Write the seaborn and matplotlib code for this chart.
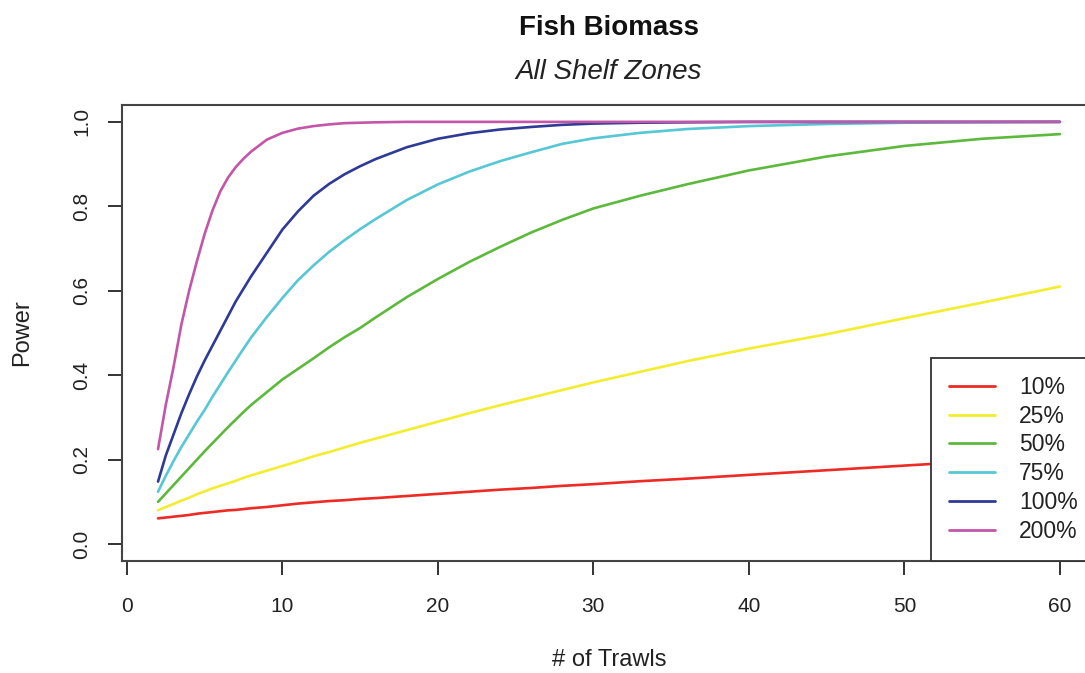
import matplotlib
matplotlib.use('Agg')
import matplotlib.pyplot as plt
import pandas as pd
import seaborn as sns

# number of trawls
trawls = [2, 2.5, 3, 3.5, 4, 4.5, 5, 5.5, 6, 6.5, 7, 7.5, 8, 9, 10, 11, 12, 13, 14,
          15, 16, 18, 20, 22, 24, 26, 28, 30, 33, 36, 40, 45, 50, 55, 60]

# power by effect size
p10 = [0.061, 0.063, 0.065, 0.067, 0.069, 0.072, 0.074, 0.076, 0.078, 0.080, 0.081,
       0.083, 0.085, 0.088, 0.092, 0.096, 0.099, 0.102, 0.104, 0.107, 0.109, 0.114,
       0.119, 0.124, 0.129, 0.133, 0.138, 0.142, 0.149, 0.155, 0.164, 0.175, 0.186,
       0.197, 0.208]
p25 = [0.080, 0.088, 0.095, 0.103, 0.110, 0.118, 0.125, 0.132, 0.138, 0.144, 0.150,
       0.157, 0.163, 0.174, 0.185, 0.196, 0.208, 0.218, 0.229, 0.240, 0.250, 0.270,
       0.290, 0.310, 0.329, 0.347, 0.365, 0.383, 0.408, 0.433, 0.463, 0.497, 0.535,
       0.572, 0.610]
p50 = [0.100, 0.120, 0.140, 0.160, 0.180, 0.200, 0.220, 0.239, 0.258, 0.277, 0.295,
       0.313, 0.330, 0.360, 0.390, 0.415, 0.440, 0.466, 0.490, 0.512, 0.537, 0.585,
       0.628, 0.668, 0.704, 0.738, 0.768, 0.795, 0.825, 0.852, 0.885, 0.918, 0.943,
       0.960, 0.971]
p75 = [0.124, 0.162, 0.197, 0.230, 0.260, 0.290, 0.318, 0.349, 0.378, 0.407, 0.435,
       0.463, 0.490, 0.538, 0.583, 0.625, 0.660, 0.692, 0.720, 0.746, 0.770, 0.815,
       0.852, 0.882, 0.907, 0.928, 0.948, 0.961, 0.974, 0.983, 0.990, 0.995, 0.998,
       0.999, 1.000]
p100 = [0.148, 0.210, 0.260, 0.310, 0.355, 0.397, 0.435, 0.470, 0.505, 0.540, 0.575,
        0.605, 0.635, 0.690, 0.745, 0.788, 0.825, 0.853, 0.876, 0.895, 0.912, 0.940,
        0.960, 0.973, 0.982, 0.988, 0.993, 0.996, 0.998, 0.999, 1.000, 1.000, 1.000,
        1.000, 1.000]
p200 = [0.225, 0.330, 0.420, 0.520, 0.600, 0.670, 0.735, 0.790, 0.835, 0.868, 0.893,
        0.913, 0.930, 0.958, 0.974, 0.984, 0.990, 0.994, 0.997, 0.998, 0.999, 1.000,
        1.000, 1.000, 1.000, 1.000, 1.000, 1.000, 1.000, 1.000, 1.000, 1.000, 1.000,
        1.000, 1.000]

labels = ['10%', '25%', '50%', '75%', '100%', '200%']
colors = ['#EE2A24', '#F2EE2E', '#5DB93B', '#56C7D4', '#2E3A96', '#C356A8']

rows = []
for lab, vals in zip(labels, [p10, p25, p50, p75, p100, p200]):
    for n, v in zip(trawls, vals):
        rows.append({'trawls': n, 'power': v, 'change': lab})
df = pd.DataFrame(rows)

sns.set_style('ticks')
plt.rcParams['font.family'] = ['Liberation Sans', 'DejaVu Sans']

fig = plt.figure(figsize=(10.85, 6.73), dpi=100)
ax = fig.add_axes([0.1124, 0.1664, 0.8977, 0.6776])

sns.lineplot(data=df, x='trawls', y='power', hue='change', hue_order=labels,
             palette=colors, linewidth=1.9, ax=ax, legend=False)

ax.set_xlim(-0.32, 62.32)
ax.set_ylim(-0.04, 1.04)
ax.set_xticks([0, 10, 20, 30, 40, 50, 60])
ax.set_yticks([0.0, 0.2, 0.4, 0.6, 0.8, 1.0])
ax.set_yticklabels(['0.0', '0.2', '0.4', '0.6', '0.8', '1.0'], rotation=90, va='center')
ax.tick_params(axis='both', length=10, width=1.4, color='#333333', labelcolor='#222222')
ax.tick_params(axis='x', labelsize=15, pad=16)
ax.tick_params(axis='y', labelsize=15, pad=12)

for s in ax.spines.values():
    s.set_color('#444444')
    s.set_linewidth(1.5)

ax.set_xlabel('# of Trawls', fontsize=17, color='#222222', labelpad=24)
ax.set_ylabel('Power', fontsize=17, color='#222222', labelpad=28)

fig.text(0.561, 0.958, 'Fish Biomass', ha='center', va='center',
         fontsize=20, fontweight='bold', color='#111111')
fig.text(0.561, 0.893, 'All Shelf Zones', ha='center', va='center',
         fontsize=20, fontstyle='italic', color='#222222')

handles = [plt.Line2D([0], [0], color=c, linewidth=2.0) for c in colors]
leg = ax.legend(handles, labels, loc='lower right', bbox_to_anchor=(1.0, 0.0),
                borderaxespad=0, fancybox=False, framealpha=1, fontsize=16.5,
                handlelength=2.0, handletextpad=1.05, labelspacing=0.25,
                borderpad=0.8, edgecolor='#333333')
leg.get_frame().set_linewidth(1.3)
for t in leg.get_texts():
    t.set_color('#222222')

fig.savefig('out.png', dpi=100)
